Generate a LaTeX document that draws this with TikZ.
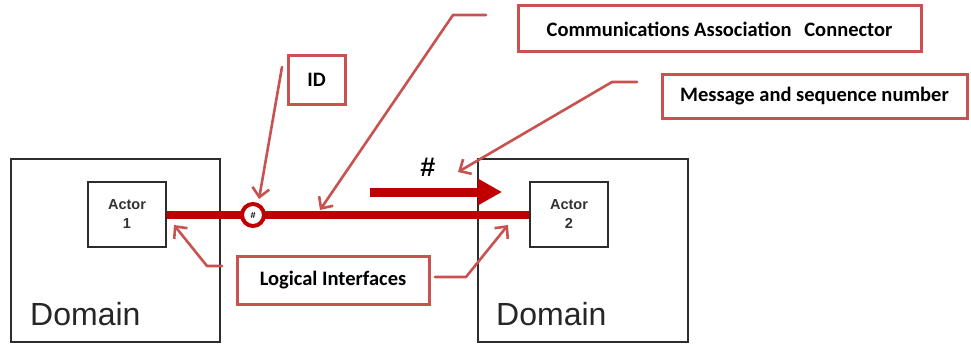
\documentclass[tikz,border=0pt]{standalone}
\usepackage{fontspec}
\setmainfont{Liberation Sans}
\newfontfamily\calfont{Carlito}
\usetikzlibrary{arrows.meta}
\definecolor{mainred}{RGB}{192,0,0}
\definecolor{callred}{RGB}{200,82,80}
\definecolor{boxgray}{RGB}{45,45,45}
\tikzset{
  domainbox/.style={draw=boxgray, line width=1.6pt, minimum width=209pt, minimum height=183pt, inner sep=0pt},
  actorbox/.style={draw=boxgray, line width=1.3pt, minimum width=78pt, minimum height=65pt, inner sep=0pt, align=center, font=\bfseries\fontsize{14.5}{19}\selectfont, text=black!80},
  domainlabel/.style={anchor=base west, inner sep=0pt, font=\fontsize{32}{32}\selectfont, text=black!85},
  callbox/.style={draw=callred, line width=3pt, fill=white, inner sep=0pt, font=\calfont\bfseries\fontsize{20.5}{20.5}\selectfont},
  callline/.style={draw=callred, line width=2.6pt, line cap=round, line join=round},
  callarrow/.style={callline, -{Straight Barb[length=9pt,width=17pt,line width=2.6pt]}},
}
\begin{document}
\begin{tikzpicture}[x=1pt,y=-1pt]
\useasboundingbox[fill=white] (0,0) rectangle (971,345);
% domains
\node[domainbox] (domL) at (115.5,250.5) {};
\node[domainbox, minimum width=210pt] (domR) at (583,250.5) {};
\node[domainlabel] (domLtxt) at (30,325) {Domain};
\node[domainlabel] (domRtxt) at (496,325) {Domain};
% actors
\node[actorbox] (act1) at (127,214.5) {Actor\\1};
\node[actorbox] (act2) at (569,214.5) {Actor\\2};
% main connector
\draw[mainred, line width=8pt] (act1.east) -- (act2.west);
\node[circle, draw=mainred, line width=4pt, fill=white, minimum size=22pt, inner sep=0pt, font=\bfseries\fontsize{9}{9}\selectfont] (idc) at (253,215) {\#};
% message arrow
\coordinate (mstart) at (370,192);
\coordinate (mend) at (502,192);
\draw[mainred, line width=9pt, -{Triangle[length=24pt,width=25pt]}] (mstart) -- (mend);
\node[font=\bfseries\fontsize{27}{27}\selectfont] (hash) at (428,167) {\#};
% callout boxes
\node[callbox, minimum width=57pt, minimum height=48pt] (idbox) at (316.5,80) {ID};
\node[callbox, minimum width=403pt, minimum height=46pt] (commbox) at (719.5,29) {Communications Association\hspace{0.4em} Connector};
\node[callbox, minimum width=305pt, minimum height=44pt] (msgbox) at (814.5,96.5) {Message and sequence number};
\node[callbox, minimum width=192pt, minimum height=48pt] (libox) at (333,280) {Logical Interfaces};
% callout lines
\coordinate (idS) at (282,67);
\coordinate (idT) at (259,199);
\draw[callarrow] (idS) -- (idT);
\coordinate (cmS) at (486,15);
\coordinate (cmK) at (453,15);
\coordinate (cmT) at (320,210);
\draw[callarrow] (cmS) -- (cmK) -- (cmT);
\coordinate (msS) at (637,82);
\coordinate (msK) at (612,82);
\coordinate (msT) at (458,172);
\draw[callarrow] (msS) -- (msK) -- (msT);
\coordinate (liLS) at (222,266);
\coordinate (liLK) at (207,266);
\coordinate (liLT) at (174,225);
\draw[callarrow] (liLS) -- (liLK) -- (liLT);
\coordinate (liRS) at (435,277);
\coordinate (liRK) at (466,277);
\coordinate (liRT) at (508,225);
\draw[callarrow] (liRS) -- (liRK) -- (liRT);
\end{tikzpicture}
\end{document}
